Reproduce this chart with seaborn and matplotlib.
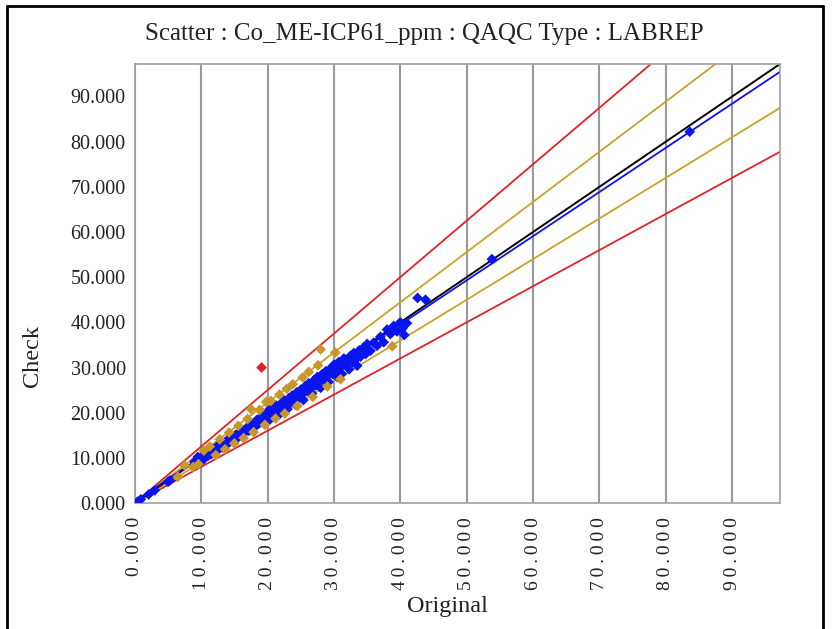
import numpy as np
import pandas as pd
import seaborn as sns
import matplotlib.pyplot as plt
from matplotlib.lines import Line2D

# Точки внутри ±10%
blue_x = [0.4, 0.9, 2.1, 3.0, 5.0, 5.3,
          9.0, 9.3, 9.5, 9.8, 10.0, 10.2, 10.5, 10.7, 11.0, 11.2, 11.5, 11.8, 12.0, 12.3,
          12.6, 12.9, 13.2, 13.5, 13.8, 14.0, 14.3, 14.6, 14.9, 15.2, 15.5, 15.8, 16.1, 16.3,
          16.6, 16.9, 17.2, 17.4, 17.7, 18.0, 18.2, 18.4, 18.7, 19.0, 19.2, 19.4, 19.7, 20.0,
          20.1, 20.3, 20.6, 20.8, 21.0, 21.3, 21.5, 21.7, 22.0, 22.2, 22.5, 22.7, 23.0, 23.2,
          23.4, 23.7, 24.0, 24.2, 24.4, 24.7, 25.0, 25.2, 25.4, 25.7, 26.0, 26.2, 26.4, 26.7,
          27.0, 27.2, 27.5, 27.7, 28.0, 28.2, 28.5, 28.8, 29.0, 29.2, 29.5, 29.8, 30.0, 30.2,
          30.5, 30.7, 31.0, 31.2, 31.5, 31.8, 32.0, 32.3, 32.5, 32.8, 33.0, 33.3, 33.5, 33.8,
          34.0, 34.5, 34.8, 35.0, 35.5, 36.0, 36.5, 37.0, 37.5, 38.0, 38.5, 39.0, 39.5, 40.0,
          40.3, 40.6, 41.0, 42.6, 43.8, 53.8, 83.6]
blue_y = [0.3, 0.8, 1.9, 2.8, 4.7, 5.0,
          9.2, 8.7, 10.2, 9.6, 9.1, 10.5, 9.9, 10.8, 10.4, 11.3, 10.8, 11.9, 11.2, 12.4,
          11.8, 12.9, 12.3, 13.4, 12.9, 14.0, 13.5, 14.5, 13.9, 15.1, 14.4, 15.6, 15.0, 16.2,
          15.6, 16.7, 16.0, 17.2, 16.6, 17.8, 17.0, 18.4, 17.6, 19.0, 18.1, 19.8, 18.7, 20.3,
          19.2, 18.4, 21.0, 19.8, 20.5, 21.6, 20.2, 19.5, 22.0, 21.0, 22.7, 21.5, 20.8, 23.2,
          22.2, 23.8, 22.7, 21.8, 24.5, 23.4, 25.1, 24.0, 22.8, 25.9, 24.8, 26.5, 25.3, 24.2,
          27.2, 26.0, 27.9, 26.7, 25.5, 28.5, 27.3, 29.2, 28.0, 26.8, 29.8, 28.6, 30.6, 29.3,
          27.9, 31.2, 30.0, 28.6, 32.0, 30.6, 31.4, 29.6, 32.6, 31.2, 33.2, 31.8, 30.4, 33.8,
          32.4, 34.5, 33.0, 35.2, 33.7, 35.5, 34.8, 36.8, 35.6, 38.4, 37.4, 39.2, 38.0, 40.0,
          38.6, 37.2, 39.8, 45.4, 45.0, 54.0, 82.2]

# Точки между 10% и 20%
gold_x = [6.5, 7.5, 8.8, 9.6, 10.4, 11.3, 12.2, 12.8, 13.6, 14.2, 15.0, 15.6, 16.4, 17.0,
          17.5, 17.9, 18.8, 19.6, 19.8, 20.5, 21.2, 21.8, 22.6, 22.9, 23.8, 24.5, 25.3, 26.2,
          26.8, 27.6, 28.0, 29.0, 30.2, 31.0, 38.8]
gold_y = [5.8, 8.3, 8.0, 8.6, 11.6, 12.5, 10.6, 14.1, 11.9, 15.6, 13.2, 17.1, 14.4, 18.6,
          20.8, 15.7, 20.6, 17.3, 22.4, 22.6, 18.7, 24.0, 19.8, 25.3, 26.3, 21.5, 27.8, 29.0,
          23.5, 30.5, 34.0, 25.8, 33.3, 27.4, 34.7]

# Выброс
red_x = [19.1]
red_y = [30.0]

ticks = [0, 10, 20, 30, 40, 50, 60, 70, 80, 90]
lim = 97.2
reg_slope, reg_icpt = 0.978, 0.4

df = pd.DataFrame({
    "Original": blue_x + gold_x + red_x,
    "Check": blue_y + gold_y + red_y,
    "grp": ["in"] * len(blue_x) + ["warn"] * len(gold_x) + ["out"] * len(red_x),
})

sns.set_style("white")
plt.rcParams["font.family"] = ["Liberation Serif", "DejaVu Serif"]

fig = plt.figure(figsize=(8.32, 6.29), dpi=100)
ax = fig.add_axes([0.162, 0.2003, 0.7755, 0.698])

# Пределы точности
gold_c = "#c9a227"
red_c = "#e02228"
for k in (1.25, 0.8):
    ax.axline((0, 0), slope=k, color=red_c, lw=1.3, zorder=2)
for k in (1.111, 0.9):
    ax.axline((0, 0), slope=k, color=gold_c, lw=1.3, zorder=2)
ax.axline((0, 0), slope=1, color="black", lw=1.4, zorder=2)
ax.axline((0, reg_icpt), slope=reg_slope, color="#1010ee", lw=1.3, zorder=2)

sns.scatterplot(data=df, x="Original", y="Check", hue="grp",
                palette={"in": "#0a14f0", "warn": "#c8962a", "out": "#e0202a"},
                marker="D", s=30, linewidth=0, legend=False, ax=ax, zorder=3)

ax.set_xlim(0, lim)
ax.set_ylim(0, lim)
ax.set_xticks(ticks)
ax.set_yticks(ticks)
ax.set_xticklabels(["\u2009".join(f"{t:.3f}") for t in ticks], rotation=90, fontsize=14)
ax.set_yticklabels([f"{t:.3f}" for t in ticks], fontsize=14.5)
ax.xaxis.grid(True, color="#999999", lw=1.5)
ax.yaxis.grid(False)
for s in ax.spines.values():
    s.set_color("#a0a0a0")
    s.set_linewidth(1.2)
ax.tick_params(axis="both", colors="#999999", length=5, width=1, direction="out",
               labelcolor="#222222")
ax.tick_params(axis="x", length=6, pad=4)
ax.tick_params(axis="y", pad=1.5)

ax.set_xlabel("Original", fontsize=17.5, color="#222222")
ax.set_ylabel("Check", fontsize=17.5, color="#222222")
ax.xaxis.set_label_coords(0.485, -0.212)
ax.yaxis.set_label_coords(-0.143, 0.335)
fig.suptitle("Scatter : Co_ME-ICP61_ppm : QAQC Type : LABREP", x=0.51, y=0.963,
             fontsize=18, color="#222222")

# Рамка вокруг рисунка
for xs, ys in (([0.009, 0.009], [0, 0.991]), ([0.009, 0.989], [0.991, 0.991]),
               ([0.989, 0.989], [0.991, 0])):
    fig.add_artist(Line2D(xs, ys, transform=fig.transFigure, color="black", lw=2))

fig.savefig("out.png", dpi=100)
